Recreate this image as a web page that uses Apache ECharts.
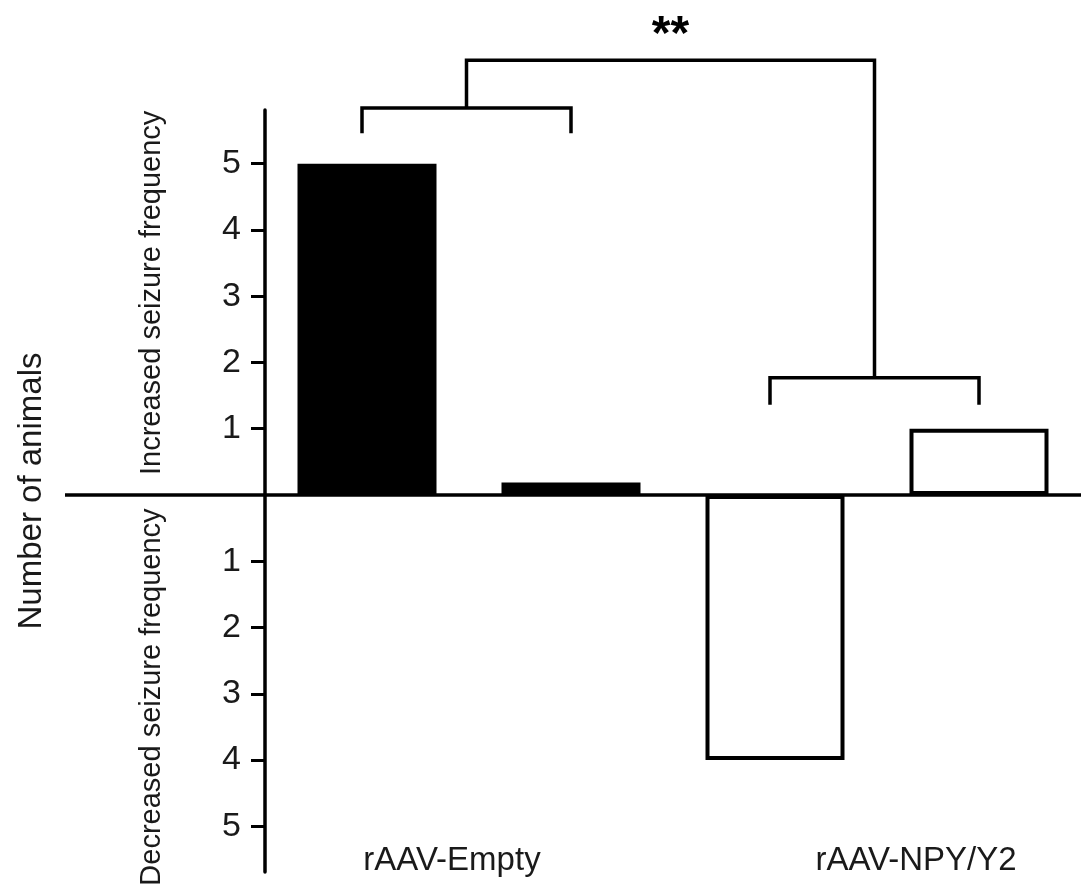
<!DOCTYPE html>
<html>
<head>
<meta charset="utf-8">
<script src="https://cdn.jsdelivr.net/npm/echarts@6/dist/echarts.min.js"></script>
<style>
  html, body { margin: 0; padding: 0; background: #fff; }
  #chart { width: 1081px; height: 892px; }
</style>
</head>
<body>
<div id="chart"></div>
<script>
// Change in seizure frequency per animal, by vector group
const barSlots = ['Empty increased', 'Empty decreased', 'NPY/Y2 decreased', 'NPY/Y2 increased'];
const groupNames = ['rAAV-Empty', 'rAAV-NPY/Y2'];
const emptyValues = [5, 0.19, null, null];
const npyValues = [null, null, -4, 1];
const tickValues = [-5, -4, -3, -2, -1, 1, 2, 3, 4, 5];
const axisTitle = 'Number of animals';
const sideLabels = ['Increased seizure frequency', 'Decreased seizure frequency'];
const sideLabelLevels = [3.05, -3.05];

// Significance brackets: one per group, joined by a linking bracket
const pairBrackets = [
  { from: 0, to: 1, bar: 5.84, foot: 5.46 },
  { from: 2, to: 3, bar: 1.77, foot: 1.36 }
];
const linkLevel = 6.56;
const starLabel = '**';
const starLevel = 6.93;

const INK = '#000';
const TEXT = '#1a1a1a';
const FONT = '"Liberation Sans", Arial, Helvetica, sans-serif';
const LW = 3.5;

function renderAnnotations(params, api) {
  const cs = params.coordSys;
  const children = [];
  const stroke = { stroke: INK, lineWidth: LW, fill: null, lineJoin: 'miter', lineCap: 'butt' };
  const poly = pts => children.push({ type: 'polyline', shape: { points: pts }, style: stroke });

  // zero baseline, running out into the left margin
  const zeroY = api.coord([0, 0])[1];
  poly([[cs.x - 200, zeroY], [cs.x + cs.width, zeroY]]);

  // per-group brackets
  const mids = pairBrackets.map(b => {
    const pa = api.coord([b.from, b.bar]);
    const pb = api.coord([b.to, b.bar]);
    const yf = api.coord([b.from, b.foot])[1];
    const xa = pa[0] - 5;
    poly([[xa, yf], [xa, pa[1]], [pb[0], pb[1]], [pb[0], yf]]);
    return [(xa + pb[0]) / 2, pa[1]];
  });

  // linking bracket between the two groups
  const yl = api.coord([0, linkLevel])[1];
  poly([[mids[0][0], mids[0][1]], [mids[0][0], yl], [mids[1][0], yl], [mids[1][0], mids[1][1]]]);

  children.push({
    type: 'text',
    x: (mids[0][0] + mids[1][0]) / 2,
    y: api.coord([0, starLevel])[1],
    style: { text: starLabel, fontSize: 48, fontWeight: 'bold', fill: INK, fontFamily: FONT,
             align: 'center', verticalAlign: 'middle' }
  });

  // direction labels beside the value axis
  sideLabels.forEach((t, i) => {
    children.push({
      type: 'text',
      x: cs.x - 113,
      y: api.coord([0, sideLabelLevels[i]])[1],
      rotation: Math.PI / 2,
      style: { text: t, fontSize: 29, fill: TEXT, fontFamily: FONT,
               align: 'center', verticalAlign: 'middle' }
    });
  });

  return { type: 'group', children };
}

const chart = echarts.init(document.getElementById('chart'), null, { renderer: 'canvas' });

chart.setOption({
  animation: false,
  backgroundColor: '#fff',
  grid: { left: 265, top: 110, width: 822, bottom: 20, containLabel: false },
  xAxis: [
    {
      type: 'category',
      data: barSlots,
      axisLine: { show: false },
      axisTick: { show: false },
      axisLabel: { show: false },
      splitLine: { show: false }
    },
    {
      type: 'category',
      data: groupNames,
      position: 'bottom',
      offset: -38,
      axisLine: { show: false },
      axisTick: { show: false },
      splitLine: { show: false },
      axisLabel: {
        margin: 10,
        formatter: (v, i) => '{g' + i + '|' + v + '}',
        rich: {
          g0: { fontSize: 33, color: TEXT, fontFamily: FONT, padding: [0, 34, 0, 0] },
          g1: { fontSize: 33, color: TEXT, fontFamily: FONT, padding: [0, 0, 0, 78] }
        }
      }
    }
  ],
  yAxis: {
    type: 'value',
    min: -5.69,
    max: 5.81,
    axisLine: { show: true, lineStyle: { color: INK, width: LW } },
    axisTick: { show: true, length: 14, customValues: tickValues, lineStyle: { color: INK, width: 3 } },
    axisLabel: {
      customValues: tickValues,
      formatter: v => String(Math.abs(v)),
      fontSize: 34, color: TEXT, fontFamily: FONT, margin: 24
    },
    splitLine: { show: false },
    name: axisTitle,
    nameLocation: 'middle',
    nameGap: 217,
    nameRotate: 90,
    nameTextStyle: { fontSize: 33, color: TEXT, fontFamily: FONT }
  },
  series: [
    {
      name: groupNames[0],
      type: 'bar',
      xAxisIndex: 0,
      data: emptyValues,
      barWidth: 139,
      barGap: '-100%',
      itemStyle: { color: INK, borderColor: INK, borderWidth: 4 }
    },
    {
      name: groupNames[1],
      type: 'bar',
      xAxisIndex: 0,
      data: npyValues,
      barWidth: 139,
      barGap: '-100%',
      itemStyle: { color: '#fff', borderColor: INK, borderWidth: 4 }
    },
    {
      type: 'custom',
      xAxisIndex: 0,
      silent: true,
      clip: false,
      z: 5,
      data: [[0, 0]],
      renderItem: renderAnnotations
    }
  ]
});
</script>
</body>
</html>
